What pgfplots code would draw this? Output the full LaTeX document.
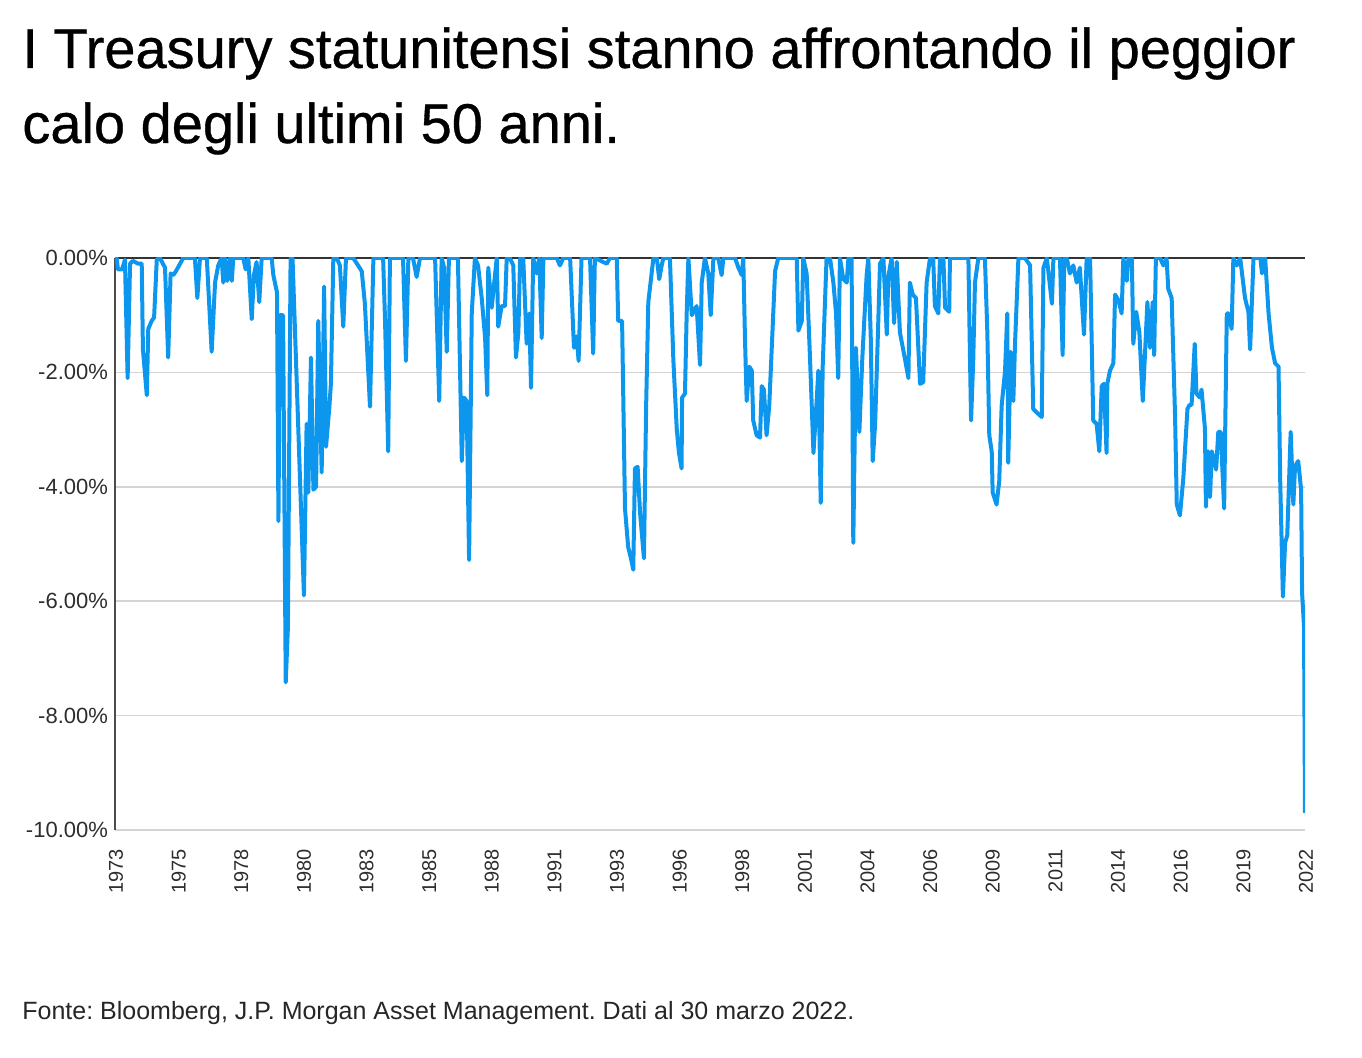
\documentclass[border=0pt]{standalone}
\usepackage{fontspec}
\setmainfont{Liberation Sans}
\newfontfamily\titlefont[FakeBold=0.6]{Liberation Sans}
\usepackage{pgfplots}
\pgfplotsset{compat=1.18}
\definecolor{tsy}{RGB}{13,150,237}
\definecolor{gridgray}{RGB}{212,212,212}
\definecolor{labgray}{RGB}{45,45,45}
\frenchspacing

\begin{document}
\begin{tikzpicture}
\useasboundingbox (0,0) rectangle (681pt,-529pt);
\node[anchor=base west, inner sep=0, font=\titlefont\fontsize{28pt}{36pt}\selectfont] at (11pt,-34pt)
  {I Treasury statunitensi stanno affrontando il peggior};
\node[anchor=base west, inner sep=0, font=\titlefont\fontsize{28pt}{36pt}\selectfont] at (11pt,-71.5pt)
  {calo degli ultimi 50 anni.};

\begin{axis}[
    at={(57.5pt,-129pt)}, anchor=north west,
    scale only axis, width=595pt, height=286pt,
    xmin=1973, xmax=2022, ymin=-10, ymax=0,
    axis x line*=bottom, axis y line*=left,
    x axis line style={draw=none},
    y axis line style={draw=black!70, line width=1.3pt},
    major tick length=0pt,
    ymajorgrids, grid style={gridgray, line width=0.8pt},
    ytick={-10,-8,-6,-4,-2,0},
    yticklabels={-10.00\%,-8.00\%,-6.00\%,-4.00\%,-2.00\%,0.00\%},
    yticklabel style={font=\fontsize{11pt}{13pt}\selectfont, text=labgray},
    extra y ticks={0}, extra y tick labels={},
    extra y tick style={grid style={draw=black!80, line width=1pt}},
    xtick={1973,1975.579,1978.158,1980.737,1983.316,1985.895,1988.474,1991.053,1993.632,1996.211,1998.789,2001.368,2003.947,2006.526,2009.105,2011.684,2014.263,2016.842,2019.421,2022},
    xticklabels={1973,1975,1978,1980,1983,1985,1988,1991,1993,1996,1998,2001,2004,2006,2009,2011,2014,2016,2019,2022},
    xticklabel style={rotate=90, anchor=east, xshift=-6pt, yshift=-0.5pt, font=\fontsize{10pt}{12pt}\selectfont, text=labgray},
]
\addplot[color=tsy, line width=2pt, line join=round, no markers] coordinates {
(1973.00,0) (1973.07,0) (1973.12,-0.2) (1973.29,-0.2) (1973.41,-0.03) (1973.52,-2.1)
(1973.62,-0.1) (1973.74,-0.05) (1973.95,-0.1) (1974.10,-0.1) (1974.15,-1.6) (1974.31,-2.4)
(1974.37,-1.24) (1974.51,-1.1) (1974.61,-1.04) (1974.72,-0.03) (1974.85,0) (1975.06,-0.17)
(1975.19,-1.74) (1975.29,-0.27) (1975.40,-0.3) (1975.51,-0.23) (1975.68,-0.1) (1975.81,0)
(1976.29,0) (1976.39,-0.7) (1976.50,0) (1976.78,0) (1976.98,-1.64) (1977.12,-0.43)
(1977.25,-0.13) (1977.39,0) (1977.46,-0.43) (1977.53,0) (1977.62,-0.4) (1977.74,0)
(1977.81,-0.4) (1977.87,0) (1978.28,0) (1978.38,-0.2) (1978.49,0) (1978.63,-1.07)
(1978.72,-0.3) (1978.83,-0.07) (1978.94,-0.77) (1979.04,0) (1979.45,0) (1979.52,-0.3)
(1979.67,-0.6) (1979.73,-4.6) (1979.79,-1.0) (1979.92,-1.0) (1980.03,-7.42) (1980.12,-6.45)
(1980.23,0) (1980.31,0) (1980.78,-5.9) (1980.89,-2.9) (1980.96,-4.1) (1981.07,-1.74)
(1981.17,-4.05) (1981.28,-4.0) (1981.37,-1.1) (1981.51,-3.75) (1981.61,-0.5) (1981.69,-3.3)
(1981.82,-2.64) (1981.89,-2.2) (1981.99,0) (1982.13,0) (1982.26,-0.13) (1982.40,-1.2)
(1982.51,0) (1982.81,0) (1983.16,-0.23) (1983.29,-0.8) (1983.50,-2.6) (1983.64,0)
(1984.04,0) (1984.12,-1.1) (1984.25,-3.38) (1984.32,0) (1984.86,0) (1984.98,-1.8)
(1985.08,0) (1985.27,0) (1985.42,-0.33) (1985.56,0) (1986.18,0) (1986.35,-2.5)
(1986.45,0) (1986.55,-0.17) (1986.66,-1.64) (1986.75,0) (1987.12,0) (1987.28,-3.55)
(1987.37,-2.44) (1987.48,-2.5) (1987.58,-5.28) (1987.69,-0.97) (1987.82,0) (1987.95,-0.13)
(1988.10,-0.7) (1988.24,-1.4) (1988.33,-2.4) (1988.37,-0.17) (1988.51,-0.87) (1988.72,0)
(1988.78,-1.2) (1988.92,-0.84) (1989.06,-0.84) (1989.13,0) (1989.26,0) (1989.40,-0.13)
(1989.51,-1.74) (1989.61,-1.3) (1989.68,0) (1989.81,0) (1989.95,-1.5) (1990.06,-0.97)
(1990.13,-2.27) (1990.22,0) (1990.36,-0.27) (1990.47,0) (1990.57,-1.4) (1990.64,0)
(1991.19,0) (1991.32,-0.13) (1991.46,0) (1991.74,0) (1991.90,-1.57) (1992.01,-1.37)
(1992.09,-1.8) (1992.21,0) (1992.56,0) (1992.69,-1.67) (1992.76,0) (1993.25,-0.1)
(1993.38,0) (1993.66,0) (1993.72,-1.1) (1993.88,-1.1) (1994.00,-4.38) (1994.13,-5.05)
(1994.27,-5.3) (1994.34,-5.45) (1994.41,-3.68) (1994.52,-3.65) (1994.62,-4.45) (1994.78,-5.25)
(1994.87,-2.6) (1994.96,-0.77) (1995.17,0) (1995.31,0) (1995.41,-0.37) (1995.51,-0.13)
(1995.58,0) (1995.85,0) (1995.99,-1.77) (1996.13,-2.98) (1996.22,-3.4) (1996.33,-3.68)
(1996.35,-2.44) (1996.47,-2.37) (1996.54,-0.97) (1996.61,0) (1996.75,-1.0) (1996.95,-0.84)
(1997.09,-1.87) (1997.16,-0.43) (1997.29,0) (1997.43,-0.27) (1997.53,-1.0) (1997.64,0)
(1997.84,0) (1997.98,-0.3) (1998.05,0) (1998.53,0) (1998.67,-0.17) (1998.81,-0.3)
(1998.87,0) (1998.94,-1.4) (1999.01,-2.5) (1999.12,-1.9) (1999.22,-1.97) (1999.28,-2.84)
(1999.42,-3.1) (1999.56,-3.14) (1999.63,-2.24) (1999.72,-2.3) (1999.83,-3.1) (1999.94,-2.58)
(2000.18,-0.23) (2000.31,0) (2001.07,0) (2001.14,-1.27) (2001.28,-1.1) (2001.34,0)
(2001.48,-0.27) (2001.62,-1.77) (2001.76,-3.41) (2001.90,-2.44) (2001.96,-1.97) (2002.06,-4.28)
(2002.14,-1.9) (2002.30,0) (2002.44,0) (2002.58,-0.43) (2002.69,-0.97) (2002.78,-2.1)
(2002.85,0) (2002.99,-0.37) (2003.13,-0.43) (2003.20,0) (2003.33,0) (2003.40,-4.98)
(2003.51,-1.57) (2003.65,-3.04) (2003.77,-1.77) (2003.95,-0.3) (2004.02,0) (2004.12,-1.4)
(2004.20,-3.55) (2004.30,-2.9) (2004.43,-1.1) (2004.50,-0.1) (2004.64,0) (2004.78,-1.34)
(2004.84,-0.33) (2004.98,0) (2005.08,-1.14) (2005.19,-0.07) (2005.32,-1.3) (2005.53,-1.77)
(2005.67,-2.1) (2005.73,-0.43) (2005.85,-0.64) (2005.98,-0.7) (2006.15,-2.2) (2006.28,-2.17)
(2006.42,-0.43) (2006.56,0) (2006.69,0) (2006.76,-0.84) (2006.90,-0.97) (2006.97,0)
(2007.11,0) (2007.18,-0.87) (2007.35,-0.94) (2007.38,0) (2008.14,0) (2008.20,-1.6)
(2008.25,-2.84) (2008.34,-1.77) (2008.41,-0.43) (2008.55,0) (2008.82,0) (2008.92,-1.3)
(2009.00,-3.1) (2009.10,-3.38) (2009.14,-4.1) (2009.30,-4.31) (2009.41,-3.9) (2009.51,-2.58)
(2009.65,-1.97) (2009.74,-0.97) (2009.78,-3.58) (2009.88,-1.64) (2009.99,-2.5) (2010.06,-1.5)
(2010.20,0) (2010.47,0) (2010.68,-0.13) (2010.81,-2.64) (2010.95,-2.7) (2011.16,-2.78)
(2011.23,-0.17) (2011.37,0) (2011.58,-0.8) (2011.64,0) (2011.91,0) (2012.02,-1.7)
(2012.09,0) (2012.19,0) (2012.32,-0.27) (2012.46,-0.13) (2012.60,-0.43) (2012.73,-0.17)
(2012.90,-1.34) (2013.01,0) (2013.15,0) (2013.28,-2.84) (2013.42,-2.9) (2013.53,-3.38)
(2013.63,-2.24) (2013.72,-2.2) (2013.83,-3.41) (2013.86,-2.2) (2013.97,-1.97) (2014.11,-1.84)
(2014.18,-0.64) (2014.32,-0.74) (2014.45,-0.97) (2014.52,0) (2014.66,-0.4) (2014.73,0)
(2014.87,0) (2014.93,-1.5) (2015.05,-0.94) (2015.18,-1.3) (2015.32,-2.5) (2015.42,-1.6)
(2015.51,-0.77) (2015.62,-1.57) (2015.73,-0.77) (2015.79,-1.7) (2015.86,0) (2016.03,0)
(2016.17,-0.13) (2016.30,0) (2016.37,-0.54) (2016.51,-0.7) (2016.65,-2.77) (2016.72,-4.31)
(2016.85,-4.5) (2016.99,-3.85) (2017.16,-2.64) (2017.24,-2.57) (2017.33,-2.57) (2017.46,-1.5)
(2017.53,-2.37) (2017.67,-2.44) (2017.74,-2.3) (2017.88,-2.98) (2017.92,-4.35) (2018.01,-3.38)
(2018.09,-4.18) (2018.16,-3.38) (2018.25,-3.51) (2018.34,-3.7) (2018.43,-3.04) (2018.53,-3.04)
(2018.67,-4.38) (2018.78,-0.97) (2018.85,-0.97) (2018.98,-1.24) (2019.05,0) (2019.19,-0.13)
(2019.33,0) (2019.53,-0.7) (2019.67,-0.94) (2019.74,-1.6) (2019.88,0) (2020.16,0)
(2020.23,-0.27) (2020.29,0) (2020.36,0) (2020.50,-0.97) (2020.64,-1.57) (2020.77,-1.84)
(2020.91,-1.9) (2020.98,-3.9) (2021.09,-5.92) (2021.18,-4.98) (2021.27,-4.85) (2021.41,-3.04)
(2021.52,-4.31) (2021.59,-3.64) (2021.72,-3.55) (2021.84,-4.05) (2021.88,-5.85) (2021.96,-6.45)
(2022.00,-9.7)
};
\end{axis}

\node[anchor=base west, inner sep=0, font=\fontsize{12.5pt}{15pt}\selectfont, text=black!85] at (11pt,-510pt)
  {Fonte: Bloomberg, J.P. Morgan Asset Management. Dati al 30 marzo 2022.};
\end{tikzpicture}
\end{document}
